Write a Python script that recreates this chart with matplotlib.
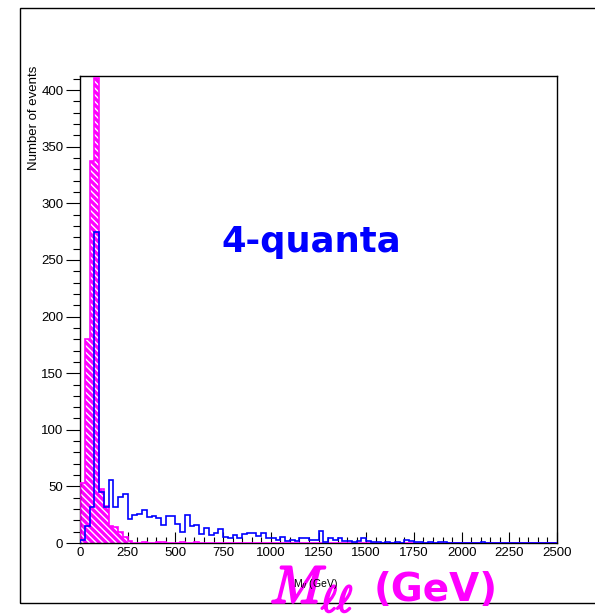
import numpy as np
import matplotlib
matplotlib.use("Agg")
import matplotlib.pyplot as plt
import matplotlib.patheffects as pe
from matplotlib.patches import Rectangle
from matplotlib.ticker import MultipleLocator

# ---- data (25 GeV bins, 0..2500 GeV) ----
bin_width = 25
n_bins = 100
blue_counts = [3, 15, 32, 275, 45, 32, 56, 32, 41, 43,
               21, 25, 26, 29, 23, 24, 22, 16, 24, 24,
               17, 10, 25, 15, 16, 8, 13, 7, 9, 12,
               5, 4, 7, 4, 8, 9, 9, 6, 9, 4,
               4, 3, 5, 2, 3, 2, 4, 4, 3, 3,
               11, 1, 4, 3, 4, 2, 2, 1, 2, 4,
               2, 1, 1, 0, 1, 0, 1, 0, 3, 2,
               1, 1, 0, 1, 0, 1, 1, 0, 0, 0,
               0, 0, 0, 0, 1, 0, 0, 0, 0, 0,
               0, 0, 0, 0, 0, 0, 0, 0, 0, 0]
magenta_counts = [53, 180, 337, 411, 48, 33, 15, 14, 10, 5,
                  2, 0, 0, 1, 0, 0, 1, 1, 0, 0,
                  0, 1, 0, 0, 1] + [0] * 75

x_major_ticks = [0, 250, 500, 750, 1000, 1250, 1500, 1750, 2000, 2250, 2500]
y_major_ticks = [0, 50, 100, 150, 200, 250, 300, 350, 400]

edges = np.arange(n_bins + 1) * bin_width

W, H = 595, 615
fig = plt.figure(figsize=(W / 100, H / 100), dpi=100)
plt.rcParams['hatch.linewidth'] = 1.0

# outer frame
fig.patches.append(Rectangle((20 / W, 1 - 603 / H), 1.2, (603 - 8) / H,
                             transform=fig.transFigure, fill=False,
                             edgecolor='black', linewidth=1.0))

ax = fig.add_axes([80 / W, 1 - 543 / H, (557 - 80) / W, (543 - 76) / H])

MAG = '#ff00ff'
ax.stairs(magenta_counts, edges, fill=True, facecolor=MAG, edgecolor='white',
          hatch='\\\\\\\\\\', linewidth=0, zorder=2)
ax.stairs(magenta_counts, edges, color=MAG, linewidth=1.2, zorder=3)
ax.stairs(blue_counts, edges, color='#0000ff', linewidth=1.2, zorder=4)

ax.set_xlim(0, 2500)
ax.set_ylim(0, 412.5)

ax.set_xticks(x_major_ticks)
ax.set_yticks(y_major_ticks)
ax.xaxis.set_minor_locator(MultipleLocator(50))
ax.yaxis.set_minor_locator(MultipleLocator(10))
ax.tick_params(axis='x', which='major', direction='in', length=8, width=0.8,
               labelsize=9.5, pad=3)
ax.tick_params(axis='x', which='minor', direction='in', length=4, width=0.8)
ax.tick_params(axis='y', which='major', direction='out', length=10, width=0.8,
               labelsize=9.5, pad=2)
ax.tick_params(axis='y', which='minor', direction='out', length=5, width=0.8)
for lab in ax.get_xticklabels() + ax.get_yticklabels():
    lab.set_fontfamily('Liberation Sans')
for s in ax.spines.values():
    s.set_linewidth(1.0)

fig.text(34 / W, 1 - 66 / H, 'Number of events', rotation=90, ha='center',
         va='top', fontsize=9.5, family='Liberation Sans')

ax.text(0.485, 0.645, '4-quanta', transform=ax.transAxes, ha='center',
        va='center', fontsize=25.5, fontweight='bold', color='#0000ff',
        family='DejaVu Sans')

# big magenta axis title
fig.text(270 / W, 1 - 603 / H, r'$M_{\ell\ell}$',
         color=MAG, fontsize=38, math_fontfamily='cm', ha='left',
         va='baseline',
         path_effects=[pe.withStroke(linewidth=1.6, foreground=MAG)])
fig.text(374 / W, 1 - 601 / H, '(GeV)', color=MAG, fontsize=28,
         fontweight='bold', family='DejaVu Sans', ha='left', va='baseline')
# small default axis title
fig.text(293 / W, 1 - 587 / H, r'M$_{ll}$ (GeV)', color='black', fontsize=7.5,
         family='Liberation Sans', ha='left', va='baseline')

fig.savefig('out.png', dpi=100)
